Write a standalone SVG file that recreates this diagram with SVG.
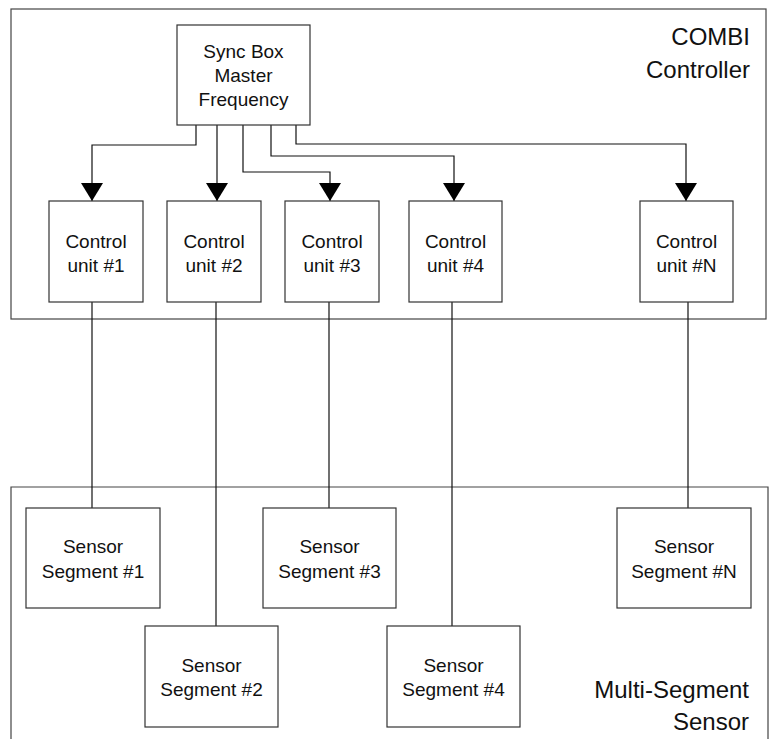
<svg xmlns="http://www.w3.org/2000/svg" width="772" height="739" viewBox="0 0 772 739">
<style>
.box{fill:#fff;stroke:#333;stroke-width:1.2}
.frame{fill:none;stroke:#444;stroke-width:1.2}
.t{font-family:"Liberation Sans",Arial,sans-serif;font-size:19px;fill:#111;text-anchor:middle}
.big{font-family:"Liberation Sans",Arial,sans-serif;font-size:24px;fill:#111;text-anchor:end}
.c{fill:none;stroke:#111;stroke-width:1.2}
</style>
<defs>
<marker id="ah" markerWidth="18" markerHeight="22" refX="18" refY="11" orient="auto" markerUnits="userSpaceOnUse" viewBox="0 0 18 22">
<path d="M0,0 L18,11 L0,22 Z" fill="#000"/>
</marker>
</defs>
<g id="combi-controller">
<rect class="frame" x="11" y="9" width="755" height="310"/>
<text class="big" x="750" y="45">COMBI</text>
<text class="big" x="750" y="78">Controller</text>
</g>
<g id="multi-segment-sensor">
<path class="frame" d="M11,739 V487 H768 V739"/>
<text class="big" x="749" y="698">Multi-Segment</text>
<text class="big" x="749" y="730">Sensor</text>
</g>
<g id="connectors">
<path class="c" d="M196,125 V145 H92 V201" marker-end="url(#ah)"/>
<path class="c" d="M217,125 V201" marker-end="url(#ah)"/>
<path class="c" d="M243,125 V172 H330 V201" marker-end="url(#ah)"/>
<path class="c" d="M271,125 V156 H454 V201" marker-end="url(#ah)"/>
<path class="c" d="M296,125 V144 H686 V201" marker-end="url(#ah)"/>
<path class="c" d="M92,302 V508"/>
<path class="c" d="M216,302 V626"/>
<path class="c" d="M329,302 V508"/>
<path class="c" d="M452,302 V626"/>
<path class="c" d="M688,302 V508"/>
</g>
<g id="sync-box">
<rect class="box" x="177" y="25" width="133" height="100"/>
<text class="t" x="243.5" y="58">Sync Box</text>
<text class="t" x="243.5" y="82">Master</text>
<text class="t" x="243.5" y="106">Frequency</text>
</g>
<g id="cu1">
<rect class="box" x="49" y="201" width="94" height="101"/>
<text class="t" x="96" y="248">Control</text>
<text class="t" x="96" y="272">unit #1</text>
</g>
<g id="cu2">
<rect class="box" x="167" y="201" width="94" height="101"/>
<text class="t" x="214" y="248">Control</text>
<text class="t" x="214" y="272">unit #2</text>
</g>
<g id="cu3">
<rect class="box" x="285" y="201" width="94" height="101"/>
<text class="t" x="332" y="248">Control</text>
<text class="t" x="332" y="272">unit #3</text>
</g>
<g id="cu4">
<rect class="box" x="409" y="201" width="93" height="101"/>
<text class="t" x="455.5" y="248">Control</text>
<text class="t" x="455.5" y="272">unit #4</text>
</g>
<g id="cun">
<rect class="box" x="640" y="201" width="93" height="101"/>
<text class="t" x="686.5" y="248">Control</text>
<text class="t" x="686.5" y="272">unit #N</text>
</g>
<g id="ss1">
<rect class="box" x="26" y="508" width="134" height="100"/>
<text class="t" x="93" y="553">Sensor</text>
<text class="t" x="93" y="578">Segment #1</text>
</g>
<g id="ss2">
<rect class="box" x="145" y="626" width="133" height="101"/>
<text class="t" x="211.5" y="672">Sensor</text>
<text class="t" x="211.5" y="696">Segment #2</text>
</g>
<g id="ss3">
<rect class="box" x="263" y="508" width="133" height="100"/>
<text class="t" x="329.5" y="553">Sensor</text>
<text class="t" x="329.5" y="578">Segment #3</text>
</g>
<g id="ss4">
<rect class="box" x="387" y="626" width="133" height="101"/>
<text class="t" x="453.5" y="672">Sensor</text>
<text class="t" x="453.5" y="696">Segment #4</text>
</g>
<g id="ssn">
<rect class="box" x="617" y="508" width="134" height="100"/>
<text class="t" x="684" y="553">Sensor</text>
<text class="t" x="684" y="578">Segment #N</text>
</g>
</svg>
